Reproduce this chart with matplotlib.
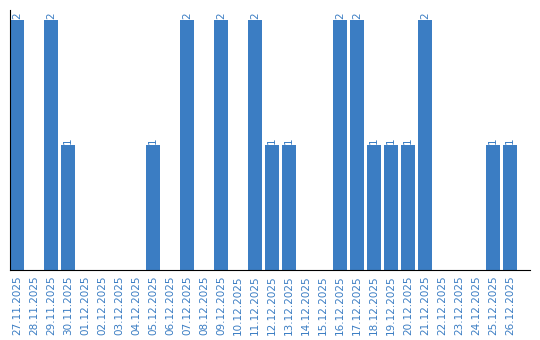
import matplotlib
matplotlib.use("Agg")
import matplotlib.pyplot as plt

dates = ["27.11.2025", "28.11.2025", "29.11.2025", "30.11.2025", "01.12.2025",
         "02.12.2025", "03.12.2025", "04.12.2025", "05.12.2025", "06.12.2025",
         "07.12.2025", "08.12.2025", "09.12.2025", "10.12.2025", "11.12.2025",
         "12.12.2025", "13.12.2025", "14.12.2025", "15.12.2025", "16.12.2025",
         "17.12.2025", "18.12.2025", "19.12.2025", "20.12.2025", "21.12.2025",
         "22.12.2025", "23.12.2025", "24.12.2025", "25.12.2025", "26.12.2025"]
counts = [2, 0, 2, 1, 0, 0, 0, 0, 1, 0,
          2, 0, 2, 0, 2, 1, 1, 0, 0, 2,
          2, 1, 1, 1, 2, 0, 0, 0, 1, 1]

blue = "#3b7dc3"
w = 14 / 17

fig = plt.figure(figsize=(5.4, 3.4), dpi=100)
ax = fig.add_axes([10 / 540, 70 / 340, 520 / 540, 260 / 340])

x = list(range(len(dates)))
ax.bar(x, counts, width=w, align="edge", color=blue)

# value labels above non-empty bars
for i, c in enumerate(counts):
    if c > 0:
        ax.text(i + w / 2, c + 0.01, str(c), rotation=90, ha="center", va="bottom",
                color=blue, fontsize=7.5)

ax.set_xlim(0, 520 / 17)
ax.set_ylim(0, 2 * 260 / 250)
ax.set_xticks([i + w / 2 for i in x])
ax.set_xticklabels(dates, rotation=90, color=blue, fontsize=7.5)
ax.set_yticks([])
ax.tick_params(axis="x", length=0, pad=4)
for s in ["top", "right"]:
    ax.spines[s].set_visible(False)
ax.spines["left"].set_color("black")
ax.spines["bottom"].set_color("black")

fig.savefig("out.png", dpi=100)
